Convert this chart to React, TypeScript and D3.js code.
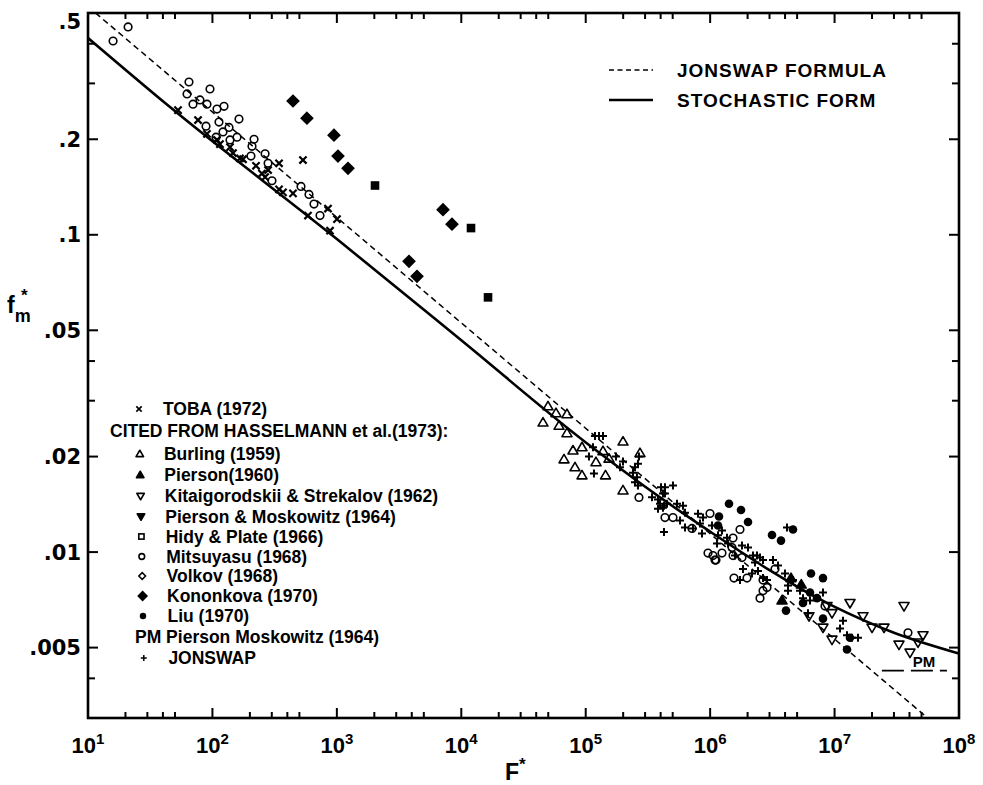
import React from "react";
import * as d3 from "d3";

// axes
const X_DOMAIN = [10, 1e8];
const Y_DOMAIN = [0.003, 0.5];
const X_MAJOR = [1e1, 1e2, 1e3, 1e4, 1e5, 1e6, 1e7, 1e8];
const X_EXPONENTS = ["1", "2", "3", "4", "5", "6", "7", "8"];
const X_MINOR_MULT = [2, 3, 4, 5];
const Y_MAJOR = [0.5, 0.2, 0.1, 0.05, 0.02, 0.01, 0.005];
const Y_LABELS = [".5", ".2", ".1", ".05", ".02", ".01", ".005"];
const Y_MINOR = [0.4, 0.3, 0.04, 0.03, 0.004];

// curves [F*, f*]
const JONSWAP_FORMULA = [[11.5, 0.5], [5.6e7, 0.003]];
const STOCHASTIC_FORM = [
  [10, 0.417], [45.6, 0.2526], [1000, 0.097], [1e4, 0.0465], [1.026e5, 0.022],
  [1e6, 0.0116], [9.57e6, 0.00678], [3e7, 0.00557], [1e8, 0.00479],
];
const PM_LIMIT = [[2.4e7, 0.00423], [8.0e7, 0.00423]];

// data points [F*, f*]
const TOBA = [
  [52.9, 0.247], [76.6, 0.23], [90.4, 0.208], [108.8, 0.199], [115, 0.193],
  [138.4, 0.189], [146.3, 0.181], [166.6, 0.174], [176.1, 0.173], [224, 0.165],
  [250, 0.156], [265, 0.152], [280, 0.16], [343, 0.168], [534, 0.172],
  [343, 0.139], [369, 0.136], [444, 0.135], [586, 0.115], [849, 0.121],
  [1002, 0.112], [881, 0.103],
];
const MITSUYASU = [
  [15.9, 0.408], [21.0, 0.452], [64.8, 0.303], [62.5, 0.278], [69.8, 0.258],
  [79.4, 0.266], [90.4, 0.258], [95.6, 0.288], [108.8, 0.249], [123.9, 0.254],
  [112.9, 0.2265], [88.8, 0.22], [106.8, 0.203], [121.6, 0.211], [135.9, 0.218],
  [138.4, 0.199], [157.6, 0.203], [163.5, 0.2315], [204, 0.177], [208, 0.19],
  [216, 0.2], [265, 0.18], [280, 0.168], [301, 0.148], [515, 0.142],
  [597, 0.134], [655, 0.125], [732, 0.115],
  [2.679e5, 0.01487], [4.335e5, 0.01285], [5.028e5, 0.01285], [7.148e5, 0.01187],
  [9.972e5, 0.01323], [9.609e5, 0.00993], [1.094e6, 0.00944], [1.245e6, 0.00993],
  [1.499e6, 0.01034], [1.527e6, 0.00975], [1.737e6, 0.01178], [1.527e6, 0.01107],
  [1.803e6, 0.00961], [1.555e6, 0.00828], [1.978e6, 0.00828], [2.66e6, 0.00816],
  [2.864e6, 0.00773], [2.516e6, 0.00716], [3.32e6, 0.00884], [2.66e6, 0.00756],
  [8.375e6, 0.00676], [3.89e7, 0.00557], [1.054e6, 0.00975], [1.114e6, 0.00944],
];
const KONONKOVA = [
  [444, 0.264], [575, 0.233], [948, 0.206], [1021, 0.177], [1229, 0.162],
  [7129, 0.12], [8417, 0.108], [3800, 0.0825], [4406, 0.074],
];
const HIDY_PLATE = [[2026, 0.143], [11970, 0.105], [16400, 0.0635]];
const BURLING = [
  [49760, 0.0288], [57690, 0.0274], [70700, 0.0272], [45360, 0.0256], [60990, 0.025],
  [70700, 0.0237], [93350, 0.0214], [79020, 0.0209], [66900, 0.0196], [81990, 0.0185],
  [93350, 0.01745], [137700, 0.0208], [120900, 0.0192], [153900, 0.0197],
  [144200, 0.01745], [199400, 0.0223], [272900, 0.0205], [199400, 0.01564],
];
const JONSWAP = [
  [118700, 0.0232], [127900, 0.0232], [137700, 0.0232], [114400, 0.0214], [106200, 0.02],
  [116500, 0.0177], [188600, 0.0185], [175100, 0.02], [199400, 0.0193], [267900, 0.02],
  [263000, 0.019], [248900, 0.0185], [239900, 0.0178], [258200, 0.0172], [248900, 0.0166],
  [263000, 0.0162], [341100, 0.0149], [381000, 0.01465], [433500, 0.016], [433500, 0.0153],
  [395400, 0.0142], [417800, 0.0138], [449800, 0.0142], [425600, 0.01157], [381000, 0.0137],
  [502800, 0.0162], [402700, 0.016], [417800, 0.0153], [425600, 0.014], [541600, 0.0142],
  [605200, 0.014], [628000, 0.0133], [572500, 0.01258], [628000, 0.01195], [728200, 0.01187],
  [798600, 0.0132], [828700, 0.0123], [860000, 0.01144], [876100, 0.01285],
  [1.156e6, 0.0113], [1.135e6, 0.01064], [1.366e6, 0.0111], [1.392e6, 0.01064],
  [1.803e6, 0.01049], [2.21e6, 0.00975], [2.38e6, 0.00975], [2.516e6, 0.00961],
  [2.66e6, 0.00944], [2.293e6, 0.00927], [1.837e6, 0.00884], [1.737e6, 0.00816],
  [2.169e6, 0.00856], [2.424e6, 0.00871], [2.66e6, 0.00828], [3.2e6, 0.00944],
  [3.51e6, 0.00907], [3.995e6, 0.00856], [4.146e6, 0.01195], [4.224e6, 0.00784],
  [4.634e6, 0.00816], [4.224e6, 0.00756], [5.275e6, 0.00756], [5.576e6, 0.00716],
  [6.114e6, 0.00642], [8.07e6, 0.00746], [1.169e7, 0.00608], [1.106e7, 0.00574],
  [1.542e7, 0.00537], [1.38e7, 0.00537], [1.259e7, 0.00547],
  [1.035e6, 0.01213], [1.245e6, 0.01169], [1.584e6, 0.00975], [2.015e6, 0.01034],
  [2.864e6, 0.00816], [6.345e6, 0.00704],
];
const LIU = [
  [1.418e6, 0.0142], [1.77e6, 0.01357], [2.015e6, 0.01244], [1.178e6, 0.01295],
  [1.156e6, 0.01213], [3.141e6, 0.01132], [3.71e6, 0.01087], [4.634e6, 0.01178],
  [6.464e6, 0.00856], [8.07e6, 0.00828], [6.345e6, 0.00746], [7.223e6, 0.00716],
  [5.576e6, 0.00691], [4.07e6, 0.00654], [8.07e6, 0.00617], [1.259e7, 0.00493],
  [1.33e7, 0.00537],
];
const PIERSON = [[4.465e6, 0.00828], [3.78e6, 0.00704], [5.4e6, 0.0079]];
const KITAIGORODSKII = [
  [8.69e6, 0.00676], [9.535e6, 0.00642], [1.33e7, 0.00691], [1.692e7, 0.00628],
  [2.0e7, 0.00578], [2.496e7, 0.00578], [3.614e7, 0.00676], [3.294e7, 0.00511],
  [4.038e7, 0.00482], [4.681e7, 0.00519], [5.135e7, 0.00547], [6.229e6, 0.00628],
  [8.07e6, 0.00578], [9.535e6, 0.0053],
];

const LEGEND_LABELS = [
  "TOBA (1972)",
  "CITED FROM HASSELMANN et al.(1973):",
  "Burling (1959)",
  "Pierson(1960)",
  "Kitaigorodskii & Strekalov (1962)",
  "Pierson & Moskowitz (1964)",
  "Hidy & Plate (1966)",
  "Mitsuyasu (1968)",
  "Volkov (1968)",
  "Kononkova (1970)",
  "Liu (1970)",
  "PM Pierson Moskowitz (1964)",
  "JONSWAP",
];
const LEGEND_MARKERS = [
  "cross", null, "triUp", "triUpFill", "triDown", "triDownFill", "square",
  "circle", "diamond", "diamondFill", "dot", null, "plus",
];
const LEGEND_ROWS = [409, 431, 454, 475, 496, 516.5, 536.5, 556.5, 576, 596, 616, 637, 658];

const FONT = "'Liberation Sans', Arial, sans-serif";
const NUM_FONT = "'DejaVu Sans', sans-serif";

function Marker({ kind, cx, cy, s = 1 }: { kind: string; cx: number; cy: number; s?: number }) {
  const k = "#000";
  if (kind === "cross") {
    const h = 3.6 * s;
    return <path d={`M${cx - h},${cy - h}L${cx + h},${cy + h}M${cx - h},${cy + h}L${cx + h},${cy - h}`} stroke={k} strokeWidth={2.2 * s} />;
  }
  if (kind === "plus") {
    const h = 4 * s;
    return <path d={`M${cx - h},${cy}L${cx + h},${cy}M${cx},${cy - h}L${cx},${cy + h}`} stroke={k} strokeWidth={2 * s} />;
  }
  if (kind === "circle") return <circle cx={cx} cy={cy} r={3.8 * s} fill="none" stroke={k} strokeWidth={1.6} />;
  if (kind === "dot") return <circle cx={cx} cy={cy} r={4.3 * s} fill={k} />;
  if (kind === "triUp" || kind === "triUpFill" || kind === "triDown" || kind === "triDownFill") {
    const h = 5 * s;
    const dir = kind.startsWith("triUp") ? 1 : -1;
    const d = `M${cx},${cy - dir * h}L${cx + h},${cy + dir * h * 0.7}L${cx - h},${cy + dir * h * 0.7}Z`;
    const filled = kind.endsWith("Fill");
    return <path d={d} fill={filled ? k : "none"} stroke={k} strokeWidth={1.6} strokeLinejoin="round" />;
  }
  if (kind === "square") {
    const h = 3.5 * s;
    return <rect x={cx - h} y={cy - h} width={2 * h} height={2 * h} fill="none" stroke={k} strokeWidth={1.6} />;
  }
  if (kind === "squareFill") {
    const h = 4.3 * s;
    return <rect x={cx - h} y={cy - h} width={2 * h} height={2 * h} fill={k} />;
  }
  if (kind === "diamond" || kind === "diamondFill") {
    const h = (kind === "diamondFill" ? 5.8 : 4.5) * s;
    const d = `M${cx},${cy - h}L${cx + h},${cy}L${cx},${cy + h}L${cx - h},${cy}Z`;
    return <path d={d} fill={kind === "diamondFill" ? k : "none"} stroke={k} strokeWidth={1.5} />;
  }
  return null;
}

export default function App() {
  const width = 983, height = 785;
  const x = d3.scaleLog().domain(X_DOMAIN).range([88, 959]);
  const y = d3.scaleLog().domain(Y_DOMAIN).range([718, 13]);
  const [x0, x1] = x.range();
  const [y0, y1] = y.range();

  const line = d3.line<number[]>().x(d => x(d[0])).y(d => y(d[1]));
  const curve = d3.line<number[]>().x(d => x(d[0])).y(d => y(d[1])).curve(d3.curveMonotoneX);

  const xMinor = X_MAJOR.slice(0, -1).flatMap(v => X_MINOR_MULT.map(m => v * m));

  const series: [number[][], string][] = [
    [TOBA, "cross"],
    [MITSUYASU, "circle"],
    [KONONKOVA, "diamondFill"],
    [HIDY_PLATE, "squareFill"],
    [BURLING, "triUp"],
    [JONSWAP, "plus"],
    [LIU, "dot"],
    [PIERSON, "triUpFill"],
    [KITAIGORODSKII, "triDown"],
  ];

  return (
    <svg width={width} height={height} style={{ position: "absolute", left: 0, top: 0, background: "#fff", display: "block" }} fontFamily={FONT}>
      <rect width={width} height={height} fill="#fff" />
      <defs>
        <clipPath id="plot"><rect x={x0} y={y1} width={x1 - x0} height={y0 - y1} /></clipPath>
      </defs>

      {/* curves */}
      <g clipPath="url(#plot)" fill="none" stroke="#000">
        <path d={line(JONSWAP_FORMULA) || ""} strokeWidth={1.5} strokeDasharray="6,4" />
        <path d={curve(STOCHASTIC_FORM) || ""} strokeWidth={2.6} />
        <path d={line(PM_LIMIT) || ""} strokeWidth={1.6} strokeDasharray="22,7" />
      </g>

      {/* points */}
      <g>
        {series.map(([data, kind], si) =>
          data.map((d, i) => <Marker key={`${si}-${i}`} kind={kind} cx={x(d[0])} cy={y(d[1])} />)
        )}
      </g>

      <text x={924} y={667} fontSize={15} fontWeight="bold" textAnchor="middle">PM</text>

      {/* frame */}
      <rect x={x0} y={y1} width={x1 - x0} height={y0 - y1} fill="none" stroke="#000" strokeWidth={2.6} />

      {/* ticks */}
      <g stroke="#000" strokeWidth={2}>
        {X_MAJOR.map(v => (
          <g key={`xm${v}`}>
            <line x1={x(v)} x2={x(v)} y1={y0} y2={y0 - 10} />
            <line x1={x(v)} x2={x(v)} y1={y1} y2={y1 + 10} />
          </g>
        ))}
        {xMinor.map(v => (
          <g key={`xn${v}`}>
            <line x1={x(v)} x2={x(v)} y1={y0} y2={y0 - 6} />
            <line x1={x(v)} x2={x(v)} y1={y1} y2={y1 + 6} />
          </g>
        ))}
        {Y_MAJOR.map(v => (
          <g key={`ym${v}`}>
            <line x1={x0} x2={x0 + 10} y1={y(v)} y2={y(v)} />
            <line x1={x1} x2={x1 - 10} y1={y(v)} y2={y(v)} />
          </g>
        ))}
        {Y_MINOR.map(v => (
          <g key={`yn${v}`}>
            <line x1={x0} x2={x0 + 7} y1={y(v)} y2={y(v)} />
            <line x1={x1} x2={x1 - 7} y1={y(v)} y2={y(v)} />
          </g>
        ))}
      </g>

      {/* x tick labels */}
      <g fontSize={22} fontWeight="bold" textAnchor="middle">
        {X_MAJOR.map((v, i) => (
          <text key={`xl${v}`} x={x(v)} y={753}>
            10<tspan dy={-9} fontSize={15}>{X_EXPONENTS[i]}</tspan>
          </text>
        ))}
      </g>

      {/* y tick labels */}
      <g fontSize={21} fontWeight="bold" textAnchor="end" fontFamily={NUM_FONT}>
        {Y_MAJOR.map((v, i) => (
          <text key={`yl${v}`} x={81} y={y(v) + (i === 0 ? 8 : 0)} dy="0.36em">{Y_LABELS[i]}</text>
        ))}
      </g>

      {/* axis titles */}
      <text x={505} y={780} fontSize={23} fontWeight="bold">F<tspan dy={-10} fontSize={17}>*</tspan></text>
      <text x={7} y={313} fontSize={23} fontWeight="bold">
        f<tspan dy={9} fontSize={18}>m</tspan>
        <tspan x={21} dy={-21} fontSize={17}>*</tspan>
      </text>

      {/* upper-right legend */}
      <g stroke="#000" fill="none">
        <line x1={609} x2={653} y1={70} y2={70} strokeWidth={1.5} strokeDasharray="5,3.5" />
        <line x1={609} x2={653} y1={100} y2={100} strokeWidth={2.6} />
      </g>
      <g fontSize={19} fontWeight="bold" letterSpacing={1} style={{ whiteSpace: "pre" }}>
        <text x={677} y={70} dy="0.36em">JONSWAP  FORMULA</text>
        <text x={677} y={100} dy="0.36em">STOCHASTIC  FORM</text>
      </g>

      {/* lower-left legend */}
      <g fontSize={17.5} fontWeight="bold">
        {LEGEND_LABELS.map((label, i) => {
          const cy = LEGEND_ROWS[i];
          const kind = LEGEND_MARKERS[i];
          const tx = i === 1 ? 110 : i === 11 ? 135 : 163 + i * 0.45;
          return (
            <g key={label}>
              {kind && <Marker kind={kind} cx={139 + i * 0.4} cy={cy} s={0.75} />}
              <text x={tx} y={cy} dy="0.36em">{label}</text>
            </g>
          );
        })}
      </g>
    </svg>
  );
}
